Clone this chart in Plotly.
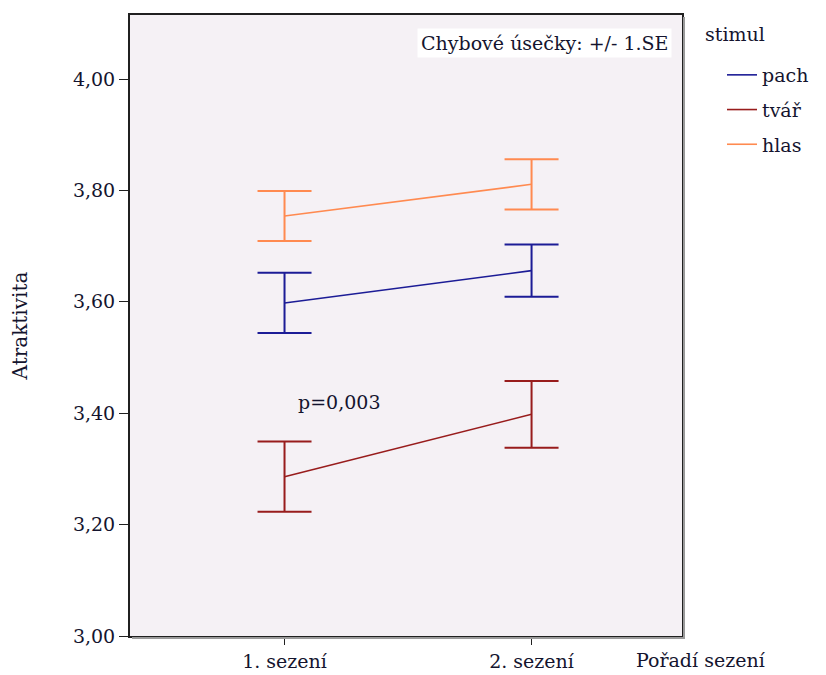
import plotly.graph_objects as go

sessions = ["1. sezení", "2. sezení"]
stimuli = ["pach", "tvář", "hlas"]
means = {
    "pach": [3.598, 3.656],
    "tvář": [3.286, 3.398],
    "hlas": [3.754, 3.811],
}
se = {
    "pach": [0.054, 0.047],
    "tvář": [0.063, 0.060],
    "hlas": [0.045, 0.045],
}
colors = {"pach": "#1C1C96", "tvář": "#981C1C", "hlas": "#FF8A50"}
yticks = [3.0, 3.2, 3.4, 3.6, 3.8, 4.0]

FONT = "DejaVu Serif"
TXT = "#14142E"
FS = 19
xpos = list(range(len(sessions)))

fig = go.Figure()
for s in stimuli:
    fig.add_trace(go.Scatter(
        x=xpos, y=means[s], mode="lines", name=s, legendgroup=s,
        line=dict(color=colors[s], width=1.6),
        error_y=dict(type="data", array=se[s], visible=True,
                     color=colors[s], thickness=2, width=27),
    ))

L, R, T, B = 130, 682, 15, 636
W, H = 826, 675
pw, ph = R - L, B - T

def px(x):
    return (x - L) / pw

def py(y):
    return (B - y) / ph

fig.update_layout(
    width=W, height=H,
    margin=dict(l=L, r=W - R, t=T, b=H - B),
    paper_bgcolor="white", plot_bgcolor="#F5F1F5",
    separators=", ",
    font=dict(family=FONT, size=FS, color=TXT),
    showlegend=True,
    legend=dict(
        x=px(722), y=py(56), xanchor="left", yanchor="top",
        font=dict(family=FONT, size=FS, color=TXT), bgcolor="rgba(0,0,0,0)",
        itemwidth=30, tracegroupgap=7, traceorder="grouped",
    ),
    xaxis=dict(
        range=[-0.6255, 1.609], tickvals=xpos, ticktext=sessions, automargin=False,
        showgrid=False, zeroline=False, showline=True, linecolor="#202020",
        linewidth=2, mirror=True, ticks="outside", ticklen=7,
        tickcolor="#202020", tickfont=dict(family=FONT, size=FS, color=TXT),
    ),
    yaxis=dict(
        range=[3.0, 4.115], tickvals=yticks, tickformat=".2f", automargin=False,
        showgrid=False, zeroline=False, showline=True, linecolor="#202020",
        linewidth=2, mirror=True, ticks="outside", ticklen=9,
        tickcolor="#202020", tickfont=dict(family=FONT, size=FS, color=TXT),
        title=dict(text="Atraktivita", font=dict(family=FONT, size=20, color=TXT), standoff=40),
    ),
    shapes=[
        dict(type="line", xref="paper", yref="paper", x0=px(R + 2), x1=px(R + 2),
             y0=py(T + 2), y1=py(B + 3), line=dict(color="#9A9A9A", width=2)),
        dict(type="line", xref="paper", yref="paper", x0=px(L + 2), x1=px(R + 3),
             y0=py(B + 2), y1=py(B + 2), line=dict(color="#9A9A9A", width=2)),
    ],
    annotations=[
        dict(text="stimul", xref="paper", yref="paper",
             x=px(703), y=py(34), xanchor="left", yanchor="middle", showarrow=False,
             font=dict(family=FONT, size=FS, color=TXT)),
        dict(text="Chybové úsečky: +/- 1.SE", xref="paper", yref="paper",
             x=px(672), y=py(28), xanchor="right", yanchor="top", showarrow=False,
             bgcolor="white", borderpad=3,
             font=dict(family=FONT, size=FS, color=TXT)),
        dict(text="p=0,003", xref="paper", yref="paper",
             x=px(296), y=py(402), xanchor="left", yanchor="middle",
             showarrow=False, font=dict(family=FONT, size=FS, color=TXT)),
        dict(text="Pořadí sezení", xref="paper", yref="paper",
             x=px(634), y=py(660), xanchor="left", yanchor="middle",
             showarrow=False, font=dict(family=FONT, size=FS, color=TXT)),
    ],
)

fig.write_html("out.html")
